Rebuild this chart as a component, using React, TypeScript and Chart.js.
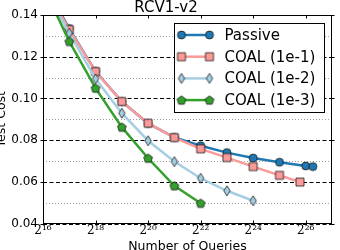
import React, { useEffect, useRef } from "react";
import { Chart, registerables } from "chart.js";

Chart.register(...registerables);

const chartTitle = "RCV1-v2";
const xAxisTitle = "Number of Queries";
const yAxisTitle = "Test Cost";
const seriesNames = ["Passive", "COAL (1e-1)", "COAL (1e-2)", "COAL (1e-3)"];

// x values are log2(number of queries)
const passiveLog2Queries = [16, 17, 18, 19, 20, 21, 22, 23, 24, 25, 26, 26.27];
const passiveCost = [0.156, 0.1335, 0.113, 0.0985, 0.088, 0.0813, 0.0773, 0.074, 0.0714, 0.0694, 0.0676, 0.0673];

const coal1Log2Queries = [16, 17, 18, 19, 20, 21, 22, 23, 24, 25, 25.78];
const coal1Cost = [0.155, 0.133, 0.1129, 0.0985, 0.0881, 0.0812, 0.0758, 0.0716, 0.0673, 0.0631, 0.0599];

const coal2Log2Queries = [16, 17, 18, 19, 20, 21, 22, 23, 24];
const coal2Cost = [0.1535, 0.1313, 0.1094, 0.0929, 0.0797, 0.0697, 0.0617, 0.0557, 0.0509];

const coal3Log2Queries = [16, 17, 18, 19, 20, 21, 22];
const coal3Cost = [0.154, 0.1273, 0.1049, 0.0862, 0.0713, 0.0581, 0.0497];

const xTickExponents = [16, 18, 20, 22, 24, 26];
const xMin = 16;
const xMax = 27;
const yTickValues = [0.04, 0.06, 0.08, 0.1, 0.12, 0.14];
const yMinorGridValues = [0.05, 0.07, 0.09, 0.11, 0.13];

const seriesColors = ["#1f78b4", "#fb9a99", "#a6cee3", "#33a02c"];
const seriesMarkers = ["circle", "square", "diamond", "pentagon"];

const SUP: Record<string, string> = {
  "0": "\u2070", "1": "\u00b9", "2": "\u00b2", "3": "\u00b3", "4": "\u2074",
  "5": "\u2075", "6": "\u2076", "7": "\u2077", "8": "\u2078", "9": "\u2079",
};
const supText = (n: number) => String(n).split("").map((c) => SUP[c] || c).join("");

function makeMarker(shape: string, fill: string): HTMLCanvasElement {
  const c = document.createElement("canvas");
  const S = 12;
  c.width = S;
  c.height = S;
  const g = c.getContext("2d")!;
  g.translate(S / 2, S / 2);
  g.beginPath();
  if (shape === "circle") {
    g.arc(0, 0, 4, 0, Math.PI * 2);
  } else if (shape === "square") {
    g.rect(-4, -4, 8, 8);
  } else if (shape === "diamond") {
    g.moveTo(0, -5);
    g.lineTo(3.2, 0);
    g.lineTo(0, 5);
    g.lineTo(-3.2, 0);
    g.closePath();
  } else {
    for (let i = 0; i < 5; i++) {
      const ang = -Math.PI / 2 + (i * 2 * Math.PI) / 5;
      const px = 4.6 * Math.cos(ang);
      const py = 4.6 * Math.sin(ang) + 0.4;
      if (i === 0) g.moveTo(px, py);
      else g.lineTo(px, py);
    }
    g.closePath();
  }
  g.fillStyle = fill;
  g.fill();
  g.lineWidth = 0.8;
  g.strokeStyle = "#1a1a1a";
  g.stroke();
  return c;
}

export default function App() {
  const ref = useRef<HTMLCanvasElement>(null);

  useEffect(() => {
    document.body.style.margin = "0";
    const markers = seriesMarkers.map((m, i) => makeMarker(m, seriesColors[i]));
    const xs = [passiveLog2Queries, coal1Log2Queries, coal2Log2Queries, coal3Log2Queries];
    const ys = [passiveCost, coal1Cost, coal2Cost, coal3Cost];

    const datasets = seriesNames.map((name, i) => ({
      label: name,
      data: xs[i].map((x, j) => ({ x, y: ys[i][j] })),
      borderColor: seriesColors[i],
      backgroundColor: seriesColors[i],
      borderWidth: 2.5,
      pointStyle: markers[i] as any,
      pointRadius: 4,
      tension: 0,
      order: 4 - i,
    }));

    const decor = {
      id: "decor",
      beforeDatasetsDraw(chart: any) {
        const { ctx, chartArea: a, scales } = chart;
        const y = scales.y;
        ctx.save();
        ctx.lineWidth = 1;
        ctx.strokeStyle = "#a0a0a0";
        ctx.setLineDash([1, 2]);
        for (const v of yMinorGridValues) {
          const py = Math.round(y.getPixelForValue(v)) + 0.5;
          ctx.beginPath();
          ctx.moveTo(a.left, py);
          ctx.lineTo(a.right, py);
          ctx.stroke();
        }
        ctx.strokeStyle = "#000";
        ctx.setLineDash([4, 2.5]);
        for (const v of yTickValues) {
          const py = Math.round(y.getPixelForValue(v)) + 0.5;
          ctx.beginPath();
          ctx.moveTo(a.left, py);
          ctx.lineTo(a.right, py);
          ctx.stroke();
        }
        ctx.restore();
      },
      afterDatasetsDraw(chart: any) {
        const { ctx, chartArea: a, scales } = chart;
        const x = scales.x;
        const y = scales.y;
        const L = Math.round(a.left) + 0.5;
        const R = Math.round(a.right) - 0.5;
        const T = Math.round(a.top) + 0.5;
        const B = Math.round(a.bottom) - 0.5;
        ctx.save();
        ctx.setLineDash([]);
        ctx.strokeStyle = "#000";
        ctx.lineWidth = 1;
        ctx.strokeRect(L, T, R - L, B - T);
        ctx.beginPath();
        for (const v of yTickValues) {
          const py = Math.round(y.getPixelForValue(v)) + 0.5;
          ctx.moveTo(L - 3, py);
          ctx.lineTo(L, py);
          ctx.moveTo(R, py);
          ctx.lineTo(R + 3, py);
        }
        for (const v of xTickExponents) {
          const px = Math.round(x.getPixelForValue(v)) + 0.5;
          ctx.moveTo(px, B);
          ctx.lineTo(px, B - 3);
          ctx.moveTo(px, T);
          ctx.lineTo(px, T + 3);
        }
        ctx.stroke();

        // legend
        const bw = 150;
        const bh = 89;
        const bx = Math.round(a.right - 8 - bw) + 0.5;
        const by = Math.round(a.top + 8) + 0.5;
        ctx.fillStyle = "#fff";
        ctx.fillRect(bx, by, bw, bh);
        ctx.strokeStyle = "#000";
        ctx.lineWidth = 1;
        ctx.strokeRect(bx, by, bw, bh);
        ctx.font = "15px 'DejaVu Sans'";
        ctx.textBaseline = "middle";
        ctx.textAlign = "left";
        seriesNames.forEach((name, i) => {
          const cy = by + 11.5 + i * 21.7;
          const x1 = bx + 7;
          const x2 = bx + 35;
          ctx.strokeStyle = seriesColors[i];
          ctx.lineWidth = 2.5;
          ctx.beginPath();
          ctx.moveTo(x1, cy);
          ctx.lineTo(x2, cy);
          ctx.stroke();
          const m = markers[i];
          ctx.drawImage(m, x1 - m.width / 2, cy - m.height / 2);
          ctx.drawImage(m, x2 - m.width / 2, cy - m.height / 2);
          ctx.fillStyle = "#000";
          ctx.fillText(name, bx + 50, cy + 1);
        });
        ctx.restore();
      },
    };

    const chart = new Chart(ref.current!, {
      type: "line",
      data: { datasets: datasets as any },
      plugins: [decor],
      options: {
        animation: false,
        responsive: false,
        devicePixelRatio: 1,
        layout: { padding: { left: 0, right: 8, top: 0, bottom: 0 } },
        plugins: {
          legend: { display: false },
          tooltip: { enabled: false },
          title: {
            display: true,
            text: chartTitle,
            color: "#000",
            font: { family: "'DejaVu Sans'", size: 15, weight: "normal", lineHeight: 1 },
            padding: { top: 1, bottom: -1 },
          },
        },
        scales: {
          x: {
            type: "linear",
            min: xMin,
            max: xMax,
            afterBuildTicks: (s: any) => {
              s.ticks = xTickExponents.map((v) => ({ value: v }));
            },
            afterFit: (s: any) => {
              s.height = 26.5;
            },
            grid: { display: false, drawTicks: false },
            border: { display: false },
            ticks: {
              autoSkip: false,
              maxRotation: 0,
              padding: 0,
              color: "#000",
              font: { family: "'DejaVu Serif'", size: 12 },
              callback: (v: any) => "2" + supText(Number(v)),
            },
            title: {
              display: true,
              text: xAxisTitle,
              color: "#000",
              font: { family: "'DejaVu Sans'", size: 12.5, lineHeight: 1 },
              padding: { top: 0, bottom: -2.75 },
            },
          },
          y: {
            type: "linear",
            min: 0.04,
            max: 0.14,
            afterBuildTicks: (s: any) => {
              s.ticks = yTickValues.map((v) => ({ value: v }));
            },
            afterFit: (s: any) => {
              s.width = 43;
            },
            grid: { display: false, drawTicks: false },
            border: { display: false },
            ticks: {
              padding: 5,
              color: "#000",
              font: { family: "'DejaVu Sans'", size: 12 },
              callback: (v: any) => Number(v).toFixed(2),
            },
            title: {
              display: true,
              text: yAxisTitle,
              color: "#000",
              font: { family: "'DejaVu Sans'", size: 12.5, lineHeight: 1 },
              padding: { top: -4.75, bottom: 0 },
            },
          },
        },
      } as any,
    });
    return () => chart.destroy();
  }, []);

  return (
    <div style={{ width: 340, height: 250 }}>
      <canvas ref={ref} width={340} height={250} style={{ display: "block" }} />
    </div>
  );
}
